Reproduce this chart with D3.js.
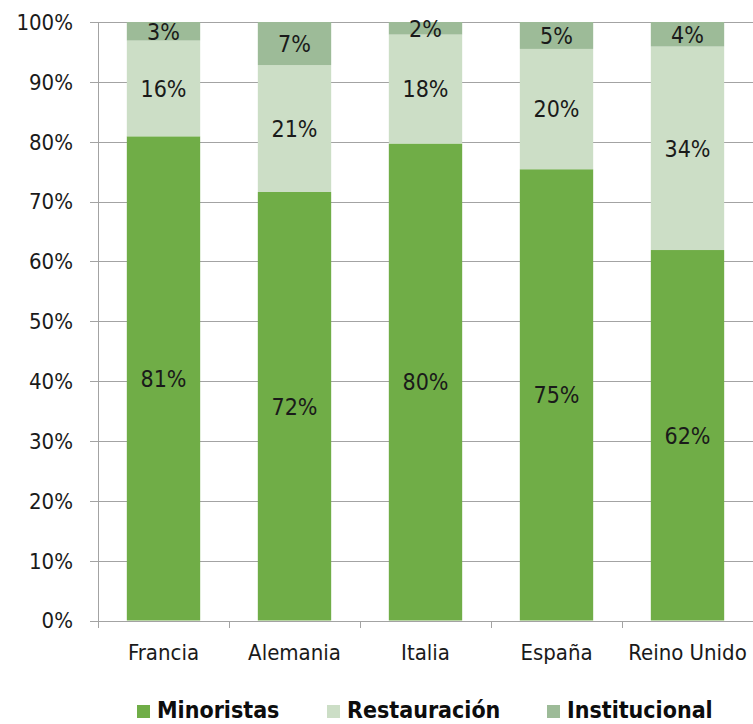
<!DOCTYPE html>
<html><head><meta charset="utf-8">
<script src="https://cdn.jsdelivr.net/npm/d3@7"></script>
<style>body{margin:0;background:#fff;}svg{display:block;font-family:"DejaVu Sans Condensed","DejaVu Sans",Verdana,sans-serif;font-stretch:condensed;}</style>
</head><body>
<svg id="c" width="753" height="724"></svg>
<script>
const categories = ["Francia","Alemania","Italia","España","Reino Unido"];
const seriesNames = ["Minoristas","Restauración","Institucional"];
const minoristas = [80.9, 71.6, 79.7, 75.4, 61.9];
const restauracion = [16.0, 21.2, 18.2, 20.1, 34.0];
const institucional = [3.1, 7.2, 2.1, 4.5, 4.1];
const labelMinoristas = ["81%","72%","80%","75%","62%"];
const labelRestauracion = ["16%","21%","18%","20%","34%"];
const labelInstitucional = ["3%","7%","2%","5%","4%"];
const yTicks = [0,10,20,30,40,50,60,70,80,90,100];
const colors = ["#70ad47","#ccdec6","#9dbb98"];

const svg = d3.select("#c");
const x = d3.scaleBand().domain(categories).range([98, 753]).paddingInner(0.44).paddingOuter(0.22);
const y = d3.scaleLinear().domain([0,100]).range([620.5, 22]);

// gridlines
svg.append("g").selectAll("line").data(yTicks).join("line")
  .attr("x1", 90).attr("x2", 753)
  .attr("y1", d=>Math.round(y(d))+0.5).attr("y2", d=>Math.round(y(d))+0.5)
  .attr("stroke", "#a3a3a3").attr("stroke-width",1);

// y labels
svg.append("g").selectAll("text").data(yTicks).join("text")
  .attr("x", 73).attr("y", d=>y(d)).attr("dy","0.36em")
  .attr("text-anchor","end").attr("font-size",22).attr("fill","#1a1a1a")
  .text(d=>d+"%");

// y axis line
svg.append("line").attr("x1",98.5).attr("x2",98.5).attr("y1",22).attr("y2",621).attr("stroke","#a3a3a3");

const rows = categories.map((c,i)=>({cat:c, Minoristas:minoristas[i], "Restauración":restauracion[i], Institucional:institucional[i]}));
const labels = [labelMinoristas, labelRestauracion, labelInstitucional];
const stack = d3.stack().keys(seriesNames)(rows);

const g = svg.append("g");
stack.forEach((layer, si) => {
  g.selectAll(null).data(layer).join("rect")
    .attr("x", d=>x(d.data.cat)).attr("width", x.bandwidth())
    .attr("y", d=>y(d[1])).attr("height", d=>y(d[0])-y(d[1]))
    .attr("fill", colors[si]);
});
stack.forEach((layer, si) => {
  g.selectAll(null).data(layer).join("text")
    .attr("x", d=>x(d.data.cat)+x.bandwidth()/2)
    .attr("y", d=>(y(d[0])+y(d[1]))/2).attr("dy","0.36em")
    .attr("text-anchor","middle").attr("font-size",23).attr("fill","#1a1a1a")
    .text((d,i)=>labels[si][i]);
});

// x axis line and ticks
svg.append("line").attr("x1",98).attr("x2",753).attr("y1",621.5).attr("y2",621.5).attr("stroke","#a3a3a3");
const step = x.step();
const bounds = d3.range(categories.length+1).map(i=>98+i*step);
svg.append("g").selectAll("line").data(bounds).join("line")
  .attr("x1", d=>Math.round(d)+0.5).attr("x2", d=>Math.round(d)+0.5)
  .attr("y1",621).attr("y2",628).attr("stroke","#a3a3a3");

svg.append("g").selectAll("text").data(categories).join("text")
  .attr("x", d=>x(d)+x.bandwidth()/2).attr("y", 660)
  .attr("text-anchor","middle").attr("font-size",22).attr("fill","#1a1a1a")
  .text(d=>d);

// legend
const legX = [137, 327, 547];
const leg = svg.append("g");
seriesNames.forEach((s,i)=>{
  leg.append("rect").attr("x",legX[i]).attr("y",705).attr("width",13).attr("height",13).attr("fill",colors[i]);
  leg.append("text").attr("x",legX[i]+20).attr("y",718).attr("font-size",23).attr("font-weight","bold")
    .attr("fill","#0d0d0d").text(s);
});
</script>
</body></html>
